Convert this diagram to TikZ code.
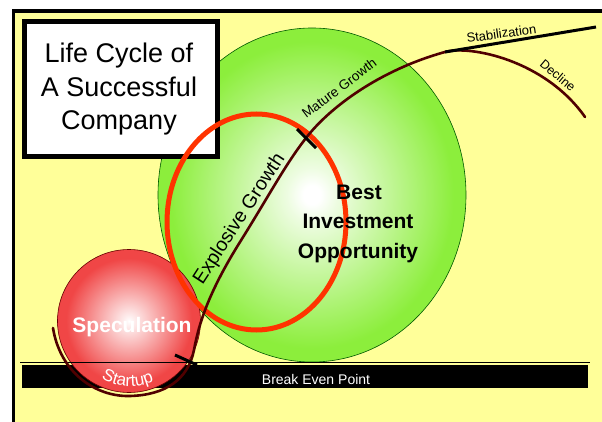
\documentclass[tikz,border=0pt]{standalone}
\usepackage{fontspec}
\setmainfont{Liberation Sans}
\usetikzlibrary{decorations.text}

\definecolor{panel}{RGB}{255,255,153}
\definecolor{leafgreen}{RGB}{140,238,60}
\definecolor{rosered}{RGB}{240,70,70}
\definecolor{flame}{RGB}{255,51,0}
\definecolor{lifeline}{RGB}{80,0,0}

% radial fills with a small bright core
\pgfdeclareradialshading{greenball}{\pgfpoint{0bp}{0bp}}{%
  color(0bp)=(white); color(1.4bp)=(white); color(4bp)=(white!85!leafgreen);
  color(23bp)=(leafgreen); color(50bp)=(leafgreen)}
\pgfdeclareradialshading{redball}{\pgfpoint{0bp}{0bp}}{%
  color(0bp)=(white); color(1.5bp)=(white!92!rosered);
  color(22bp)=(rosered); color(50bp)=(rosered)}

\begin{document}
\begin{tikzpicture}[x=1pt,y=-1pt,
  fs/.style={font=\fontsize{#1}{#1}\selectfont},
  label/.style={inner sep=0pt, anchor=base},
  boldlabel/.style={label, font=\fontsize{#1}{#1}\selectfont\bfseries},
  tickmark/.style={line width=3pt, black},
  outline/.style={line width=0.6pt}
]
\useasboundingbox (0,0) rectangle (602,422);

% page and framed panel
\fill[white] (0,0) rectangle (602,422);
\fill[panel] (13.5,11) rectangle (602,422);
\draw[line width=3.3pt] (13.5,422) -- (13.5,11) -- (602,11);

% break even band
\fill[black] (22,365) rectangle (588,388);

% growth phase bubble
\shade[shading=greenball] (312,195) ellipse [x radius=154pt, y radius=167pt];
\draw[outline, green!35!black] (312,195) ellipse [x radius=154pt, y radius=167pt];

% speculation bubble
\shade[shading=redball] (129,321) circle [radius=71.5pt];
\draw[outline, red!40!black] (129,321) circle [radius=71.5pt];

% break even line
\draw[line width=1pt] (20,362) -- (590,362);

% title box
\draw[line width=5pt, fill=white] (24.2,21.5) rectangle (217.5,156.5);
\node[label, fs=27] (title1) at (119,63) {Life Cycle of};
\node[label, fs=27] (title2) at (119,97) {A Successful};
\node[label, fs=27] (title3) at (119,130) {Company};

% highlight ring
\draw[flame, line width=5pt] (256.5,222) ellipse [x radius=89.5pt, y radius=108pt];

% life cycle curve
\coordinate (start) at (53,328);
\coordinate (low) at (130,396);
\coordinate (breakeven) at (194,350);
\coordinate (boom) at (240,242);
\coordinate (mature) at (306,138);
\coordinate (plateau) at (445,52);
\coordinate (finish) at (585,117);
\draw[lifeline, line width=2.6pt, line cap=round]
  (start) .. controls (60,372) and (95,397) .. (low)
  .. controls (165,395) and (188,380) .. (breakeven)
  .. controls (199,322) and (210,290) .. (boom)
  .. controls (270,194) and (285,165) .. (mature)
  .. controls (330,107) and (380,70) .. (plateau)
  .. controls (470,45) and (545,60) .. (finish);

% stabilization branch
\coordinate (stableend) at (596,27);
\draw[line width=3pt] (plateau) -- (stableend);

% phase ticks
\draw[tickmark] (297,129) -- (316,148);
\draw[tickmark] (175,355) -- (197,365);

% phase labels
\node[label, fs=19.5, rotate=57] (explosive) at (244,222) {Explosive Growth};
\node[label, fs=13.5, rotate=37] (maturelbl) at (342,92) {Mature Growth};
\node[label, fs=13, rotate=8] (stable) at (502,38) {Stabilization};
\node[label, fs=12.5, rotate=-40] (decline) at (555,79) {Decline};

\node[boldlabel=21] (best1) at (359,200) {Best};
\node[boldlabel=21] (best2) at (358,229) {Investment};
\node[boldlabel=21] (best3) at (358,258) {Opportunity};

\node[boldlabel=21, text=white] (spec) at (132,332) {Speculation};

\path[decorate, decoration={text along path, text align=center, text color=white,
  text={|\fontsize{17}{17}\selectfont|Startup}}]
  (94,373) .. controls (114,390) and (141,390) .. (162,377);

\node[label, fs=14, text=white] (breaklbl) at (316,384) {Break Even Point};
\end{tikzpicture}
\end{document}
